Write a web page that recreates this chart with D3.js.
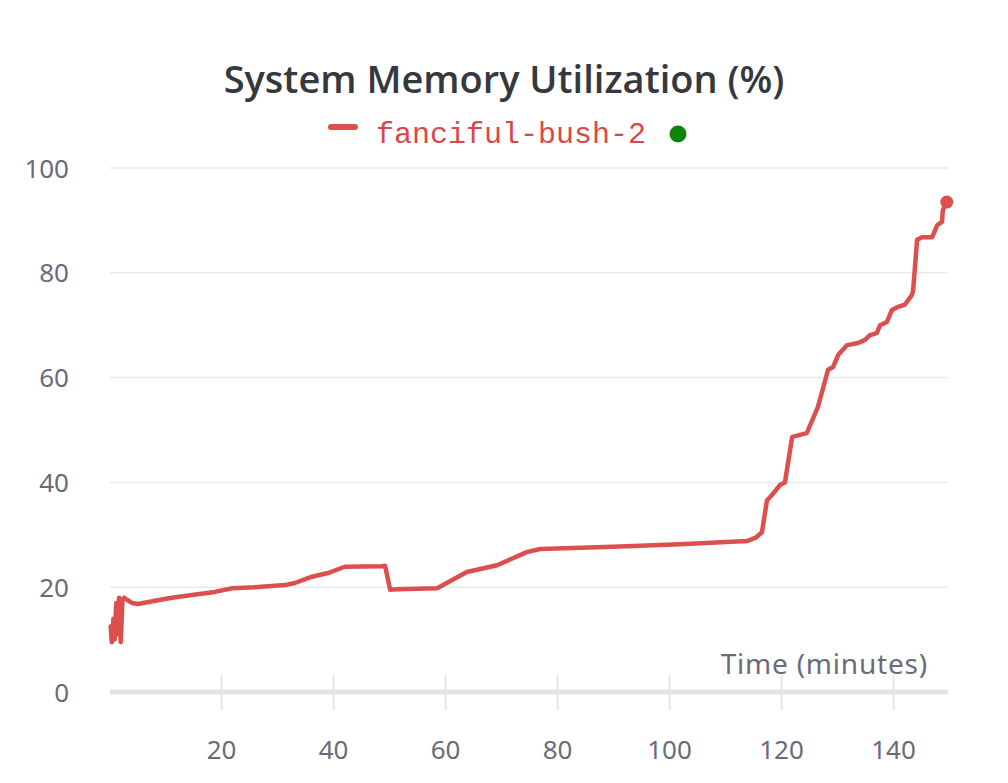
<!DOCTYPE html>
<html>
<head>
<meta charset="utf-8">
<script src="https://cdn.jsdelivr.net/npm/d3@7"></script>
<style>
  html, body { margin: 0; padding: 0; background: #fff; }
  svg { display: block; }
</style>
</head>
<body>
<div id="chart"></div>
<script>
  'use strict';

  // minutes since start
  const times = [
    0.3, 0.5, 0.8, 1.0, 1.3, 1.5, 1.8, 2.1, 2.4, 2.7, 3.2, 4.1, 5.2, 8.2, 11.25,
    14.8, 18.9, 22, 26, 31.4, 33.2, 36.25, 39.1, 42.1, 48.75, 49.3, 50.2, 51.4,
    58.6, 63.9, 69.3, 74.6, 77, 90, 102, 113.9, 115.4, 116.6, 117.5, 118.4,
    119.8, 120.7, 122, 124.6, 126.6, 128.4, 129.3, 130.2, 131.8, 133.75, 135,
    135.9, 137.1, 137.7, 138.9, 139.8, 140.9, 142.1, 143.4, 143.6, 144.3,
    145.2, 147, 147.9, 148.75, 148.9, 149.6
  ];

  // memory utilisation (%)
  const memory = [
    12.5, 9.5, 14, 10, 17, 11, 18, 9.5, 17.5, 18, 17.6, 17, 16.8, 17.4, 18,
    18.5, 19.1, 19.8, 20, 20.4, 20.8, 22, 22.7, 23.9, 24, 24.1, 19.5, 19.6,
    19.8, 22.9, 24.2, 26.7, 27.3, 27.7, 28.2, 28.8, 29.4, 30.5, 36.6, 37.6,
    39.5, 40, 48.7, 49.4, 54.4, 61.5, 62, 64.3, 66.2, 66.6, 67.2,
    68.1, 68.5, 70, 70.6, 72.9, 73.5, 73.9, 75.8, 76.7, 86.3,
    86.8, 86.8, 89.1, 89.7, 92, 93.5
  ];

  const xTicks = [20, 40, 60, 80, 100, 120, 140];
  const yTicks = [0, 20, 40, 60, 80, 100];

  const runName = 'fanciful-bush-2';
  const title = 'System Memory Utilization (%)';
  const xLabel = 'Time (minutes)';

  const width = 1008;
  const height = 783;
  const lineColor = '#dc4f4f';
  const textColor = '#6b6b78';
  const font = '"Noto Sans", "Open Sans", sans-serif';

  const data = times.map((t, i) => ({ t, v: memory[i] }));

  const x = d3.scaleLinear().domain([0, 150]).range([109, 949]);
  const y = d3.scaleLinear().domain([0, 100]).range([692, 168]);

  const svg = d3.select('#chart')
    .append('svg')
    .attr('width', width)
    .attr('height', height);

  // Title
  svg.append('text')
    .attr('x', 504)
    .attr('y', 93)
    .attr('text-anchor', 'middle')
    .attr('font-family', '"Open Sans", "Noto Sans", sans-serif')
    .attr('font-weight', 600)
    .attr('font-size', 38)
    .attr('fill', '#35383d')
    .text(title);

  // Legend
  const legend = svg.append('g');
  legend.append('line')
    .attr('x1', 331).attr('x2', 355)
    .attr('y1', 127).attr('y2', 127)
    .attr('stroke', lineColor)
    .attr('stroke-width', 6)
    .attr('stroke-linecap', 'round');
  legend.append('text')
    .attr('x', 376)
    .attr('y', 143)
    .attr('font-family', '"Liberation Mono", "DejaVu Sans Mono", monospace')
    .attr('font-size', 30)
    .attr('fill', '#d94848')
    .text(runName);
  legend.append('circle')
    .attr('cx', 678).attr('cy', 134).attr('r', 8.5)
    .attr('fill', '#0a840a');

  // Horizontal grid
  svg.append('g')
    .selectAll('line')
    .data(yTicks.filter(d => d > 0))
    .join('line')
    .attr('x1', 110).attr('x2', 948)
    .attr('y1', d => y(d)).attr('y2', d => y(d))
    .attr('stroke', '#e9e9ec')
    .attr('stroke-width', 1.5);

  // Y axis labels
  const yAxis = d3.axisLeft(y).tickValues(yTicks).tickSize(0).tickPadding(0);
  const gy = svg.append('g')
    .attr('transform', 'translate(69,0)')
    .call(yAxis);
  gy.select('.domain').remove();
  gy.selectAll('text')
    .attr('font-family', font)
    .attr('font-size', 26)
    .attr('fill', textColor)
    .attr('dy', '0.35em');

  // X axis
  const xAxis = d3.axisBottom(x).tickValues(xTicks).tickSize(0).tickPadding(0);
  const gx = svg.append('g')
    .attr('transform', 'translate(0,692)')
    .call(xAxis);
  gx.select('.domain').remove();
  gx.selectAll('text')
    .attr('font-family', font)
    .attr('font-size', 26)
    .attr('fill', textColor)
    .attr('y', 58)
    .attr('dy', '0.35em');
  gx.selectAll('.tick').insert('line', 'text')
    .attr('y1', -17).attr('y2', 18)
    .attr('stroke', '#e6e6e9')
    .attr('stroke-width', 2);
  gx.append('line')
    .attr('x1', 110).attr('x2', 948)
    .attr('y1', 0).attr('y2', 0)
    .attr('stroke', '#e3e3e6')
    .attr('stroke-width', 5);

  // X label
  svg.append('text')
    .attr('x', 928)
    .attr('y', 674)
    .attr('text-anchor', 'end')
    .attr('font-family', font)
    .attr('font-size', 28)
    .attr('letter-spacing', 0.8)
    .attr('fill', textColor)
    .text(xLabel);

  // Series line
  const line = d3.line()
    .x(d => x(d.t))
    .y(d => y(d.v));

  svg.append('path')
    .datum(data)
    .attr('fill', 'none')
    .attr('stroke', lineColor)
    .attr('stroke-width', 4.5)
    .attr('stroke-linejoin', 'round')
    .attr('stroke-linecap', 'round')
    .attr('d', line);

  const last = data[data.length - 1];
  svg.append('circle')
    .attr('cx', x(last.t))
    .attr('cy', y(last.v))
    .attr('r', 6.5)
    .attr('fill', lineColor);
</script>
</body>
</html>
